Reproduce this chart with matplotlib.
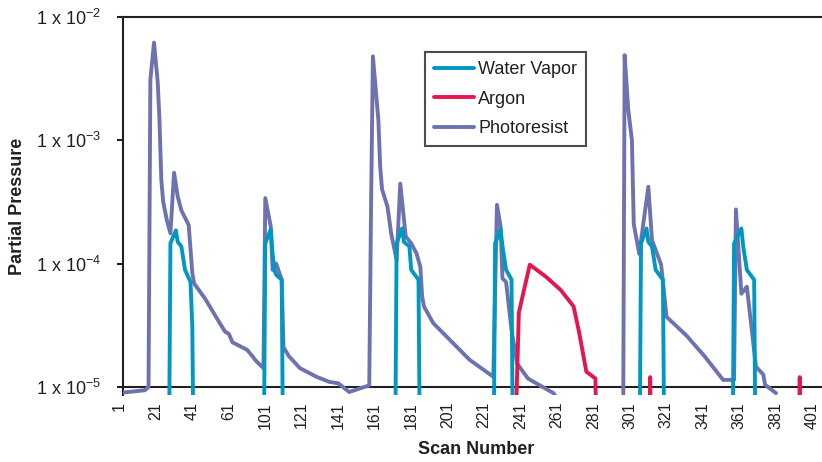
import matplotlib
matplotlib.use('Agg')
import matplotlib.pyplot as plt
import matplotlib.transforms as mtransforms
from matplotlib.ticker import FixedLocator, NullLocator

plt.rcParams['font.family'] = ['Liberation Sans', 'DejaVu Sans']
plt.rcParams['mathtext.default'] = 'regular'

# Scan numbers on the category axis (scans 81-100 are not in the record)
categories = list(range(1, 81)) + list(range(101, 402))
tick_scans = [1, 21, 41, 61, 101, 121, 141, 161, 181, 201, 221, 241, 261,
              281, 301, 321, 341, 361, 381, 401]
pressure_ticks = [1e-5, 1e-4, 1e-3, 1e-2]
pressure_labels = ['1 x 10$^{-5}$', '1 x 10$^{-4}$', '1 x 10$^{-3}$', '1 x 10$^{-2}$']

# Water vapor bursts (1e-6 = below detection)
water_scan = [26, 27, 30, 31, 33, 35, 38, 39, 40,
              78, 79, 102, 103, 104, 105, 108, 109,
              170, 171, 174, 175, 178, 179, 183, 184,
              224, 225, 228, 229, 231, 234, 235,
              304, 305, 308, 309, 311, 313, 317, 318,
              355, 356, 360, 361, 363, 367, 368]
water_val = [1e-6, 1.46e-4, 1.86e-4, 1.5e-4, 1.38e-4, 8.9e-5, 7.1e-5, 3.1e-5, 1e-6,
             1e-6, 1.46e-4, 1.9e-4, 1.2e-4, 8.9e-5, 8.1e-5, 7.4e-5, 1e-6,
             1e-6, 1.46e-4, 1.93e-4, 1.5e-4, 1.38e-4, 8.9e-5, 7.4e-5, 1e-6,
             1e-6, 1.46e-4, 1.9e-4, 1.4e-4, 8.9e-5, 7.4e-5, 1e-6,
             1e-6, 1.46e-4, 1.93e-4, 1.5e-4, 1.38e-4, 8.9e-5, 7.4e-5, 1e-6,
             1e-6, 1.46e-4, 1.93e-4, 1.38e-4, 8.9e-5, 7.4e-5, 1e-6]

argon_scan = [235, 238, 244, 253, 261, 268, 271, 275, 280, 281,
              309, 310, 311,
              391, 392, 393]
argon_val = [1e-6, 4.0e-5, 9.8e-5, 7.8e-5, 6.1e-5, 4.5e-5, 2.8e-5, 1.33e-5, 1.17e-5, 1e-6,
             1e-6, 1.2e-5, 1e-6,
             1e-6, 1.2e-5, 1e-6]

photo_scan = [1, 13, 15, 16, 18, 20, 21, 22, 23, 25,
              27, 29, 31, 33, 37, 39, 40, 46, 54, 57,
              59, 61, 69, 72, 74, 78, 79, 102, 103, 105,
              108, 109, 112, 118, 127, 134, 139, 145, 156, 157,
              158, 161, 162, 163, 166, 168, 171, 173, 176, 179,
              182, 184, 185, 186, 191, 211, 224, 226, 228, 229,
              231, 234, 237, 243, 257, 295, 296, 298, 300, 301,
              304, 309, 311, 316, 319, 330, 340, 350, 356, 357,
              360, 363, 368, 372, 373, 379]
photo_val = [9.0e-6, 9.4e-6, 1.0e-5, 3.1e-3, 6.2e-3, 3.0e-3, 1.46e-3, 4.8e-4, 3.2e-4, 2.26e-4,
             1.76e-4, 5.46e-4, 3.5e-4, 2.7e-4, 2.06e-4, 8.4e-5, 6.9e-5, 5.2e-5, 3.3e-5, 2.8e-5,
             2.7e-5, 2.3e-5, 2.0e-5, 1.77e-5, 1.62e-5, 1.42e-5, 3.4e-4, 2.0e-4, 8.9e-5, 1.0e-4,
             7.4e-5, 2.1e-5, 1.77e-5, 1.42e-5, 1.21e-5, 1.1e-5, 1.07e-5, 9.1e-6, 1.03e-5, 3.0e-4,
             4.8e-3, 1.46e-3, 6.1e-4, 4.0e-4, 2.9e-4, 1.76e-4, 1.07e-4, 4.45e-4, 1.66e-4, 1.46e-4,
             1.2e-4, 9.4e-5, 5.4e-5, 4.5e-5, 3.3e-5, 1.66e-5, 1.21e-5, 3.0e-4, 2.0e-4, 7.6e-5,
             7.1e-5, 2.9e-5, 1.55e-5, 1.17e-5, 8.9e-6, 1e-6, 4.9e-3, 1.76e-3, 1.0e-3, 2.1e-4,
             1.2e-4, 4.2e-4, 1.55e-4, 9.8e-5, 3.7e-5, 2.6e-5, 1.76e-5, 1.14e-5, 1.14e-5, 2.75e-4,
             5.7e-5, 6.5e-5, 1.46e-5, 1.26e-5, 1.04e-5, 8.9e-6]

pos = {s: i for i, s in enumerate(categories)}


def to_pos(scans):
    return [pos[s] for s in scans]


ink = '#231f20'
line_kw = dict(lw=2.8, solid_joinstyle='round', solid_capstyle='round')

fig = plt.figure(figsize=(8.22, 4.62), dpi=100)
ax = fig.add_axes([123 / 822, 67 / 462, 699 / 822, 378 / 462])

ph, = ax.plot(to_pos(photo_scan), photo_val, color='#6d73ae', zorder=3,
              label='Photoresist', **line_kw)
wv, = ax.plot(to_pos(water_scan), water_val, color='#0098c3', zorder=4,
              label='Water Vapor', **line_kw)
ar, = ax.plot(to_pos(argon_scan), argon_val, color='#e5164f', zorder=5,
              label='Argon', **line_kw)

ax.axhline(1e-5, color=ink, lw=1.5, zorder=2)

ax.set_yscale('log')
ax.set_ylim(8.6e-6, 1e-2)
ax.set_xlim(0, 383.2)
ax.yaxis.set_major_locator(FixedLocator(pressure_ticks))
ax.yaxis.set_minor_locator(NullLocator())
ax.set_yticklabels(pressure_labels)
ax.set_xticks(to_pos(tick_scans))
ax.set_xticklabels([str(s) for s in tick_scans], rotation=90)

ax.tick_params(axis='y', length=4, width=1.5, pad=12, labelsize=13,
               color=ink, labelcolor=ink)
ax.tick_params(axis='x', length=0, pad=5, labelsize=11.5, labelcolor=ink)

# nudge the rotated scan labels a little left so the last one stays inside
shift = mtransforms.ScaledTranslation(-4 / 100, 0, fig.dpi_scale_trans)
for lbl in ax.get_xticklabels():
    lbl.set_transform(lbl.get_transform() + shift)

for side in ['right', 'bottom']:
    ax.spines[side].set_visible(False)
for side in ['top', 'left']:
    ax.spines[side].set_linewidth(1.5)
    ax.spines[side].set_color(ink)

ax.set_xlabel('Scan Number', fontsize=13, fontweight='bold', color=ink, va='center')
ax.xaxis.set_label_coords(0.505, -0.1455)
ax.set_ylabel('Partial Pressure', fontsize=13, fontweight='bold', color=ink, va='center')
ax.yaxis.set_label_coords(-0.1516, 0.5)

leg = ax.legend(handles=[wv, ar, ph], loc='upper left',
                bbox_to_anchor=(425 / 822, 1 - 52 / 462), bbox_transform=fig.transFigure,
                fontsize=13, frameon=True, fancybox=False, edgecolor=ink,
                handlelength=2.2, handletextpad=0.25, labelspacing=0.7,
                borderpad=0.5, borderaxespad=0)
leg.get_frame().set_linewidth(1.5)
for t in leg.get_texts():
    t.set_color(ink)

fig.savefig('out.png', dpi=100)
